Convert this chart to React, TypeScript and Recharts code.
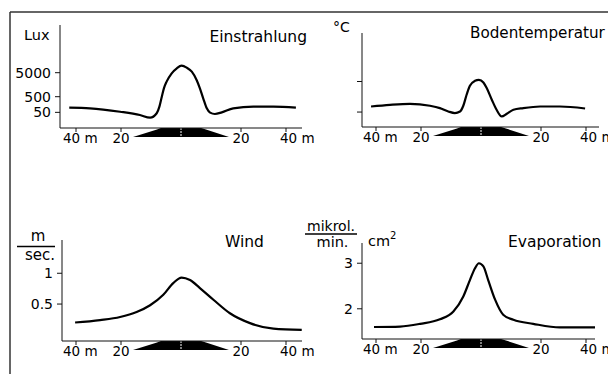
import React from 'react';
import { LineChart, Line, XAxis, YAxis, ReferenceArea } from 'recharts';

const FONT = '"DejaVu Sans", "Liberation Sans", sans-serif';

// distance from the hedge in metres (negative = left / windward side)
const distTicks = [-40, -20, 20, 40];
const distLabels = ['40 m', '20', '20', '40 m'];
const hedgeHalfWidth = 16;

// Einstrahlung (relative height on the Lux scale)
const einDist = [-43, -33.8, -20.4, -13.7, -10.3, -8.1, -7.2, -6.4, -5.7, -4.8, -3.1, -1.4, 0.2, 1.9, 3.6, 5.2, 6.3, 7.4, 8.6, 9.7, 11.3, 13.6, 17.4, 25.5, 34.4, 44.4];
const einVal = [19.7, 19.1, 15.8, 12.6, 10.0, 14.3, 20.7, 30.4, 38.5, 45.0, 53.1, 58.0, 60.5, 58.6, 54.7, 46.6, 38.5, 28.8, 19.1, 14.9, 13.6, 15.2, 19.1, 20.7, 20.7, 19.7];
const einTicks = [15.2, 30.4, 53.7];
const einLabels = ['50', '500', '5000'];

// Bodentemperatur (relative)
const soilDist = [-42.2, -33.8, -24.9, -17, -13.7, -10.9, -8.7, -7, -5.9, -4.8, -3.7, -2, -0.7, 0.8, 1.9, 3.6, 5.2, 6.9, 8.6, 10.8, 14.1, 19.7, 28.4, 39.6];
const soilVal = [21.8, 23.6, 24.7, 22.6, 20.1, 16.5, 14.8, 16.5, 22.6, 34.3, 43.8, 49.1, 50.2, 47.3, 41.4, 29.0, 18.3, 11.2, 14.1, 18.3, 20.1, 21.8, 21.8, 19.7];
const soilTicks = [15.9, 48.4];
const soilLabels = ['', ''];

// Wind, m/sec.
const windDist = [-40.4, -29.3, -20.4, -14.8, -10.3, -5.9, -2.6, 0.2, 3, 6.3, 10.8, 16.3, 24, 34.4, 47];
const windVal = [0.2, 0.24, 0.29, 0.37, 0.48, 0.65, 0.84, 0.93, 0.89, 0.76, 0.57, 0.35, 0.19, 0.1, 0.08];
const windTicks = [0.5, 1];
const windLabels = ['0.5', '1'];

// Evaporation, mikrol./min. cm2
const evapDist = [-40.9, -29.3, -20.4, -13.7, -9.2, -5.9, -3.7, -2, -0.7, 0.8, 2.4, 4.7, 7.4, 10.8, 17.4, 28.4, 44];
const evapVal = [1.6, 1.61, 1.67, 1.77, 1.94, 2.27, 2.63, 2.89, 3.0, 2.93, 2.63, 2.2, 1.87, 1.76, 1.67, 1.59, 1.59];
const evapTicks = [2, 3];
const evapLabels = ['2', '3'];

// the drawing stretches the 20 m next to the hedge
const toAxis = (m: number) => {
  const a = Math.abs(m);
  const p = a <= 20 ? a * 3 : 60 + (a - 20) * 2.25;
  return Math.sign(m) * p;
};
const axisTicks = distTicks.map(toAxis);

const DistTick = (props: any) => {
  const { x, y, payload } = props;
  const label = distLabels[axisTicks.indexOf(payload.value)] ?? '';
  const withUnit = label.includes(' m');
  const tx = withUnit ? x + (payload.value < 0 ? -13 : -6) : x;
  return (
    <text x={tx} y={y} dy={9.5} textAnchor={withUnit ? 'start' : 'middle'} fontSize={13.5} fontFamily={FONT} fill="#000">
      {label}
    </text>
  );
};

const hedgeShape = (props: any) => {
  const { x, y, width, height } = props;
  const h = width / 2;
  const cx = x + h;
  const yb = y + height;
  const pts = [[-1, 9], [-0.5, 1.5], [-0.42, 0], [0.42, 0], [0.52, 1.5], [1, 9]]
    .map(([f, d]) => `${cx + f * h},${yb + d}`)
    .join(' ');
  return (
    <g>
      <polygon points={pts} fill="#000" />
      <line x1={cx} x2={cx} y1={yb} y2={yb + 9} stroke="#fff" strokeWidth={1} strokeDasharray="2 1" />
    </g>
  );
};

interface PanelProps {
  xs: number[];
  ys: number[];
  yDomain: [number, number];
  yTicks: number[];
  yLabels: string[];
  axisX: number;
  top: number;
  bottom: number;
  leftExt: number;
  rightExt: number;
}

const Panel = ({ xs, ys, yDomain, yTicks, yLabels, axisX, top, bottom, leftExt, rightExt }: PanelProps) => {
  const data = xs.map((m, i) => ({ x: toAxis(m), y: ys[i] }));
  const w = 60 + leftExt + rightExt + 30;
  const h = bottom - top + 30;
  const hedge = toAxis(hedgeHalfWidth);
  return (
    <div style={{ position: 'absolute', left: axisX - 60, top }}>
      <LineChart width={w} height={h} data={data} margin={{ top: 0, right: 30, bottom: 0, left: 0 }}>
        <XAxis
          type="number"
          dataKey="x"
          domain={[-leftExt, rightExt]}
          allowDataOverflow
          ticks={axisTicks}
          interval={0}
          tick={DistTick}
          tickSize={4}
          tickMargin={1}
          height={30}
          stroke="#111"
        />
        <YAxis
          type="number"
          domain={yDomain}
          allowDataOverflow
          ticks={yTicks}
          interval={0}
          tickFormatter={(v: number) => yLabels[yTicks.indexOf(v)] ?? ''}
          width={60}
          tickSize={5}
          tickMargin={4}
          stroke="#111"
          tick={{ fill: '#000', fontSize: 14, fontFamily: FONT }}
        />
        <ReferenceArea x1={-hedge} x2={hedge} shape={hedgeShape} ifOverflow="visible" />
        <Line type="monotone" dataKey="y" stroke="#000" strokeWidth={2.2} dot={false} isAnimationActive={false} />
      </LineChart>
    </div>
  );
};

const App = () => {
  const t = { fontFamily: FONT, fill: '#000' };
  return (
    <div style={{ position: 'absolute', left: 0, top: 0, width: 608, height: 374, background: '#fff', overflow: 'hidden' }}>
      <Panel xs={einDist} ys={einVal} yDomain={[0, 100]} yTicks={einTicks} yLabels={einLabels} axisX={60} top={25} bottom={128} leftExt={121} rightExt={121} />
      <Panel xs={soilDist} ys={soilVal} yDomain={[0, 100]} yTicks={soilTicks} yLabels={soilLabels} axisX={362} top={33} bottom={127} leftExt={119} rightExt={118} />
      <Panel xs={windDist} ys={windVal} yDomain={[-0.1, 1.54]} yTicks={windTicks} yLabels={windLabels} axisX={62} top={240} bottom={341} leftExt={119} rightExt={121} />
      <Panel xs={evapDist} ys={evapVal} yDomain={[1.337, 3.444]} yTicks={evapTicks} yLabels={evapLabels} axisX={362} top={243} bottom={339} leftExt={119} rightExt={114} />

      <svg width={608} height={374} style={{ position: 'absolute', left: 0, top: 0, pointerEvents: 'none' }}>
        <line x1={10} y1={12} x2={608} y2={12} stroke="#333" strokeWidth={1.5} />
        <line x1={10} y1={12} x2={10} y2={374} stroke="#333" strokeWidth={1.5} />

        <text x={24} y={39.5} fontSize={14.5} {...t}>Lux</text>
        <text x={307} y={41.5} fontSize={15.5} textAnchor="end" {...t}>Einstrahlung</text>

        <text x={333} y={31.5} fontSize={14} {...t}>°C</text>
        <text x={470} y={37.5} fontSize={15.2} {...t}>Bodentemperatur</text>

        <text x={38} y={241} fontSize={15} textAnchor="middle" {...t}>m</text>
        <line x1={17} y1={246.5} x2={55} y2={246.5} stroke="#000" strokeWidth={1.3} />
        <text x={40} y={260} fontSize={15} textAnchor="middle" {...t}>sec.</text>
        <text x={225} y={246.5} fontSize={15.5} {...t}>Wind</text>

        <text x={331} y={231} fontSize={14} textAnchor="middle" {...t}>mikrol.</text>
        <line x1={305} y1={234} x2={357} y2={234} stroke="#000" strokeWidth={1.3} />
        <text x={332.5} y={246.5} fontSize={14.5} textAnchor="middle" {...t}>min.</text>
        <text x={368} y={245.5} fontSize={14.5} {...t}>
          cm<tspan fontSize={10} dy={-7}>2</tspan>
        </text>
        <text x={508} y={246.5} fontSize={15.5} {...t}>Evaporation</text>
      </svg>
    </div>
  );
};

export default App;
